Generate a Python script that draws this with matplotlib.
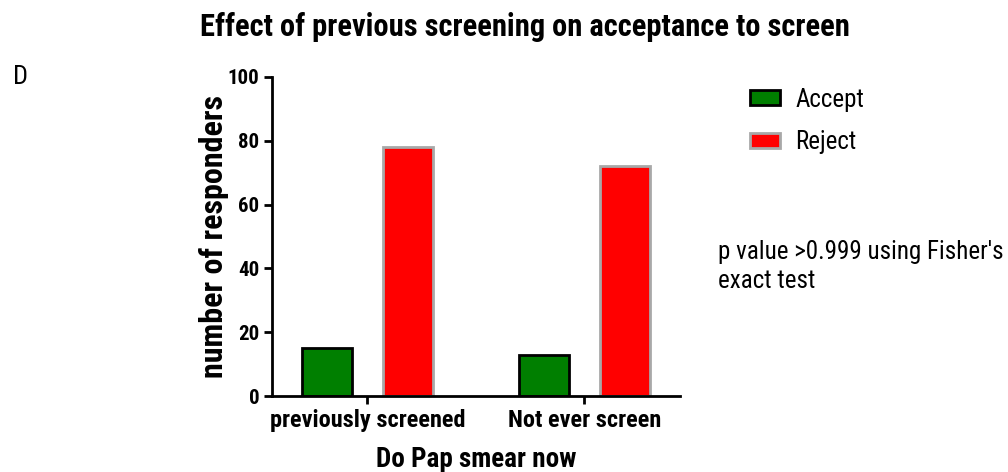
import matplotlib
matplotlib.use("Agg")
import matplotlib.pyplot as plt
import numpy as np
from matplotlib import font_manager
from matplotlib.patches import Patch

# Data
groups = ["previously screened", "Not ever screen"]
accept = [15, 13]
reject = [78, 72]
yticks = [0, 20, 40, 60, 80, 100]

names = {f.name for f in font_manager.fontManager.ttflist}
FONT = "Roboto Condensed" if "Roboto Condensed" in names else "DejaVu Sans"
plt.rcParams["font.family"] = [FONT, "DejaVu Sans"]

fig = plt.figure(figsize=(10.08, 4.72), dpi=100)
ax = fig.add_axes([0.2698, 0.161, 0.4048, 0.6759])

x = np.arange(len(groups))
w = 0.23
off = 0.187
ax.bar(x - off, accept, width=w, color="#007f00", edgecolor="black", linewidth=2, label="Accept")
ax.bar(x + off, reject, width=w, color="#ff0000", edgecolor="#a8a8a8", linewidth=2, label="Reject")

ax.set_xlim(-0.44, 1.44)
ax.set_ylim(0, 100)
ax.set_yticks(yticks)
ax.set_yticklabels([str(v) for v in yticks], fontsize=15, fontweight="bold")
ax.set_xticks(x)
ax.set_xticklabels(groups, fontsize=17.5, fontweight="bold")
for s in ["top", "right"]:
    ax.spines[s].set_visible(False)
for s in ["left", "bottom"]:
    ax.spines[s].set_linewidth(2)
ax.tick_params(axis="both", width=2, length=6, pad=3)

ax.set_ylabel("number of responders", fontsize=23, fontweight="bold")
ax.yaxis.label.set_va("center")
ax.yaxis.set_label_coords(-0.142, 0.5)
ax.set_xlabel("Do Pap smear now", fontsize=19.5, fontweight="bold")
ax.xaxis.label.set_va("center")
ax.xaxis.set_label_coords(0.5, -0.2)

fig.text(0.521, 0.942, "Effect of previous screening on acceptance to screen",
         ha="center", va="center", fontsize=22, fontweight="bold")
fig.text(0.02, 0.837, "D", ha="center", va="center", fontsize=19)

handles = [Patch(facecolor="#007f00", edgecolor="black", linewidth=2, label="Accept"),
           Patch(facecolor="#ff0000", edgecolor="#a8a8a8", linewidth=2, label="Reject")]
fig.legend(handles=handles, loc="upper left", bbox_to_anchor=(0.722, 0.862),
           frameon=False, fontsize=18, handlelength=1.2, handleheight=0.55,
           labelspacing=0.75, handletextpad=0.6)

fig.text(0.712, 0.436, "p value >0.999 using Fisher's\nexact test", ha="left", va="center",
         fontsize=18, linespacing=1.28)

fig.savefig("out.png", dpi=100)
